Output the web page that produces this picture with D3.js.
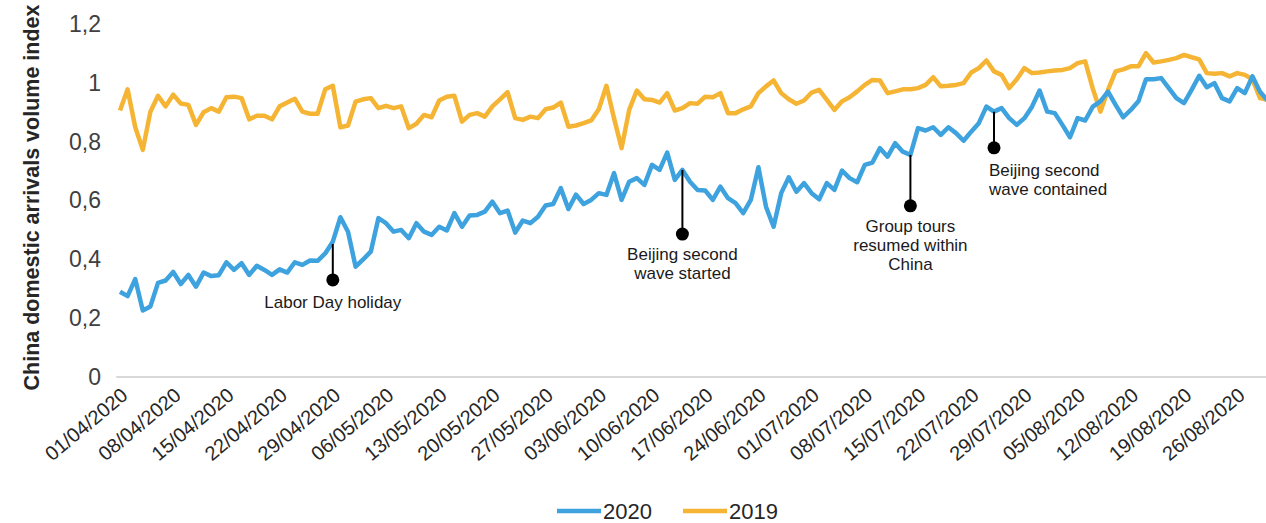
<!DOCTYPE html>
<html lang="en">
  <head>
    <meta charset="UTF-8" />
    <title>China domestic arrivals volume index</title>
    <style>
      body { margin: 0; background: #ffffff; overflow: hidden; }
      text { font-family: "Liberation Sans", Arial, sans-serif; }
    </style>
  </head>
  <body>
    <div id="chart"></div>
    <script src="https://d3js.org/d3.v7.min.js"></script>
    <script>
      // daily values, first point is 01/04/2020 (one value per day)
      var startDate = "01/04/2020";

      var values2020 = [
        0.29, 0.275, 0.333, 0.226, 0.24, 0.32, 0.328, 0.357, 0.316, 0.347,
        0.307, 0.355, 0.343, 0.346, 0.39, 0.364, 0.387, 0.347, 0.378, 0.364,
        0.347, 0.366, 0.355, 0.39, 0.381, 0.396, 0.395, 0.42, 0.46, 0.543,
        0.494, 0.375, 0.40, 0.426, 0.54, 0.523, 0.494, 0.50, 0.472, 0.523,
        0.494, 0.483, 0.511, 0.498, 0.557, 0.511, 0.549, 0.551, 0.562, 0.596,
        0.557, 0.566, 0.491, 0.532, 0.523, 0.545, 0.583, 0.588, 0.642, 0.571,
        0.62, 0.588, 0.602, 0.625, 0.619, 0.693, 0.602, 0.664, 0.676, 0.653,
        0.721, 0.704, 0.763, 0.67, 0.704, 0.664, 0.636, 0.634, 0.602, 0.647,
        0.608, 0.591, 0.557, 0.602, 0.713, 0.579, 0.511, 0.625, 0.679, 0.63,
        0.659, 0.625, 0.604, 0.659, 0.636, 0.702, 0.676, 0.662, 0.721, 0.729,
        0.778, 0.749, 0.795, 0.766, 0.755, 0.846, 0.838, 0.849, 0.823, 0.849,
        0.829, 0.803, 0.834, 0.863, 0.919, 0.902, 0.914, 0.88, 0.857, 0.88,
        0.919, 0.974, 0.902, 0.897, 0.857, 0.815, 0.88, 0.872, 0.919, 0.937,
        0.97, 0.925, 0.883, 0.908, 0.937, 1.012, 1.012, 1.016, 0.982, 0.948,
        0.931, 0.976, 1.024, 0.985, 0.999, 0.948, 0.937, 0.982, 0.965, 1.022,
        0.97, 0.94
      ];

      var values2019 = [
        0.906, 0.978, 0.85, 0.772, 0.902, 0.956, 0.92, 0.96, 0.93, 0.925,
        0.857, 0.9, 0.914, 0.902, 0.951, 0.953, 0.948, 0.876, 0.888, 0.888,
        0.876, 0.92, 0.933, 0.946, 0.902, 0.895, 0.895, 0.978, 0.99, 0.849,
        0.855, 0.936, 0.944, 0.948, 0.914, 0.922, 0.914, 0.92, 0.846, 0.861,
        0.891, 0.883, 0.94, 0.953, 0.956, 0.868, 0.891, 0.897, 0.885, 0.92,
        0.944, 0.968, 0.88, 0.874, 0.885, 0.88, 0.91, 0.916, 0.933, 0.851,
        0.855, 0.863, 0.872, 0.91, 0.99, 0.88, 0.778, 0.908, 0.974, 0.944,
        0.942, 0.933, 0.965, 0.906, 0.914, 0.931, 0.929, 0.953, 0.951, 0.965,
        0.897, 0.897, 0.91, 0.92, 0.965, 0.988, 1.008, 0.965, 0.944, 0.929,
        0.94, 0.967, 0.976, 0.942, 0.908, 0.937, 0.951, 0.971, 0.993, 1.01,
        1.008, 0.965, 0.971, 0.978, 0.978, 0.982, 0.993, 1.019, 0.988, 0.99,
        0.993, 0.999, 1.035, 1.05, 1.076, 1.039, 1.027, 0.982, 1.012, 1.05,
        1.033, 1.035, 1.039, 1.042, 1.044, 1.05, 1.067, 1.073, 0.98, 0.902,
        0.976, 1.039, 1.046, 1.056, 1.056, 1.101, 1.069, 1.073, 1.078, 1.084,
        1.095, 1.087, 1.08, 1.033, 1.031, 1.033, 1.022, 1.033, 1.027, 1.012,
        0.948, 0.942
      ];

      var tickLabels = [
        "01/04/2020", "08/04/2020", "15/04/2020", "22/04/2020", "29/04/2020",
        "06/05/2020", "13/05/2020", "20/05/2020", "27/05/2020", "03/06/2020",
        "10/06/2020", "17/06/2020", "24/06/2020", "01/07/2020", "08/07/2020",
        "15/07/2020", "22/07/2020", "29/07/2020", "05/08/2020", "12/08/2020",
        "19/08/2020", "26/08/2020"
      ];
      var yTicks = [0, 0.2, 0.4, 0.6, 0.8, 1, 1.2];

      var seriesNames = ["2020", "2019"];
      var seriesColors = ["#3da2de", "#f5b433"];

      // annotations: date, value where the stem starts, value of the dot
      var noteDates = ["29/04/2020", "14/06/2020", "14/07/2020", "25/07/2020"];
      var noteTop = [0.452, 0.704, 0.755, 0.902];
      var noteDot = [0.33, 0.486, 0.582, 0.779];
      var noteLines = [
        ["Labor Day holiday"],
        ["Beijing second", "wave started"],
        ["Group tours", "resumed within", "China"],
        ["Beijing second", "wave contained"]
      ];

      var W = 1266, H = 523;
      var parse = d3.timeParse("%d/%m/%Y");
      var fmtDate = d3.timeFormat("%d/%m/%Y");
      var comma = d3.formatLocale({decimal: ",", thousands: ".", grouping: [3], currency: ["", ""]}).format("~g");

      var start = parse(startDate);
      var dates = values2020.map(function(v, i) { return d3.timeDay.offset(start, i); });

      var svg = d3.select("#chart")
        .append("svg")
          .attr("width", W)
          .attr("height", H);

      // scales
      var step = 7.6;
      var x = d3.scaleTime()
        .domain([dates[0], dates[dates.length - 1]])
        .range([120, 120 + step * (dates.length - 1)]);
      var y = d3.scaleLinear()
        .domain([0, 1.2])
        .range([377, 24]);

      // y axis labels, no line
      var yAxis = svg.append("g")
        .attr("transform", "translate(117,0)")
        .call(d3.axisLeft(y).tickValues(yTicks).tickFormat(comma).tickSize(0).tickPadding(16));
      yAxis.select(".domain").remove();
      yAxis.selectAll("text")
        .style("font-size", "23px")
        .attr("fill", "#404040");

      // y title
      svg.append("text")
        .attr("transform", "translate(39," + (y(0.6) - 3) + ") rotate(-90)")
        .attr("text-anchor", "middle")
        .style("font-size", "21.5px")
        .style("font-weight", "bold")
        .attr("fill", "#262626")
        .text("China domestic arrivals volume index");

      // x axis baseline
      svg.append("line")
        .attr("x1", x(dates[0]) - step / 2)
        .attr("x2", W)
        .attr("y1", y(0))
        .attr("y2", y(0))
        .attr("stroke", "#d9d9d9")
        .attr("stroke-width", 2);

      var xAxis = svg.append("g")
        .attr("transform", "translate(0," + y(0) + ")")
        .call(d3.axisBottom(x).tickValues(tickLabels.map(parse)).tickFormat(fmtDate).tickSize(0).tickPadding(0));
      xAxis.select(".domain").remove();
      xAxis.selectAll("text")
        .style("font-size", "20px")
        .attr("fill", "#262626")
        .attr("text-anchor", "end")
        .attr("y", 0)
        .attr("dy", "0.35em")
        .attr("transform", "translate(4,15) rotate(-40)");

      // lines
      var line = d3.line()
        .x(function(d, i) { return x(dates[i]); })
        .y(function(d) { return y(d); });

      [values2019, values2020].forEach(function(vals, k) {
        svg.append("path")
          .datum(vals)
          .attr("fill", "none")
          .attr("stroke", seriesColors[1 - k])
          .attr("stroke-width", 4.5)
          .attr("stroke-linejoin", "round")
          .attr("d", line);
      });

      // annotations
      var notes = svg.append("g");
      noteDates.forEach(function(s, i) {
        var nx = x(parse(s));
        var yTop = y(noteTop[i]), yDot = y(noteDot[i]);
        notes.append("line")
          .attr("x1", nx).attr("x2", nx)
          .attr("y1", yTop).attr("y2", yDot)
          .attr("stroke", "#000")
          .attr("stroke-width", 2);
        notes.append("circle")
          .attr("cx", nx).attr("cy", yDot)
          .attr("r", 6.5)
          .attr("fill", "#000");
        var left = i === 3;
        notes.append("text")
          .attr("x", left ? nx - 5 : nx)
          .attr("y", yDot + (left ? 28 : (i === 0 ? 28 : 26)))
          .attr("text-anchor", left ? "start" : "middle")
          .style("font-size", "17px")
          .attr("fill", "#1a1a1a")
          .selectAll("tspan")
          .data(noteLines[i])
          .enter()
          .append("tspan")
            .attr("x", left ? nx - 5 : nx)
            .attr("dy", function(d, j) { return j ? 19 : 0; })
            .text(function(d) { return d; });
      });

      // legend
      var legend = svg.append("g").attr("transform", "translate(557,511)");
      seriesNames.forEach(function(name, i) {
        var g = legend.append("g").attr("transform", "translate(" + (i * 126) + ",0)");
        g.append("line")
          .attr("x1", 0).attr("x2", 44)
          .attr("stroke", seriesColors[i])
          .attr("stroke-width", 4.5);
        g.append("text")
          .attr("x", 46)
          .attr("y", 8)
          .style("font-size", "22px")
          .attr("fill", "#262626")
          .text(name);
      });
    </script>
  </body>
</html>
